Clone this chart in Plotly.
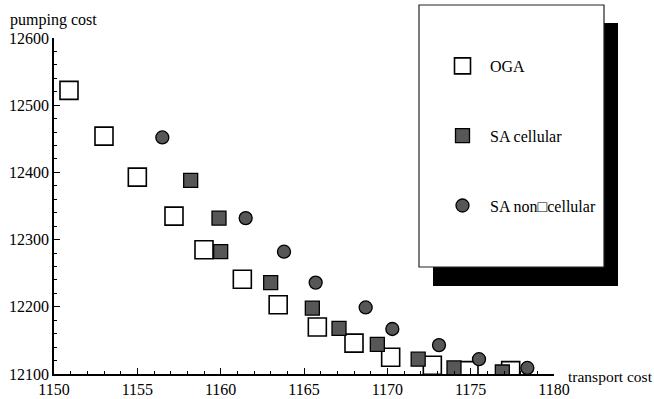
import plotly.graph_objects as go

# Data
oga_x = [1150.9, 1153.0, 1155.0, 1157.2, 1159.0, 1161.3, 1163.45, 1165.8, 1168.0, 1170.2, 1172.7, 1174.9, 1177.4]
oga_y = [12522, 12454, 12393, 12335, 12285, 12241, 12203, 12170, 12146, 12125, 12113, 12105, 12105]

sac_x = [1158.2, 1159.9, 1160.0, 1163.0, 1165.5, 1167.1, 1169.4, 1171.85, 1174.0, 1176.9]
sac_y = [12388, 12332, 12282, 12236, 12198, 12168, 12144, 12122, 12109, 12103]

sanc_x = [1156.5, 1161.5, 1163.8, 1165.7, 1168.7, 1170.3, 1173.1, 1175.5, 1178.4]
sanc_y = [12452, 12332, 12282, 12236, 12199, 12167, 12143, 12122, 12109]

x_ticks = [1150, 1155, 1160, 1165, 1170, 1175, 1180]
y_ticks = [12100, 12200, 12300, 12400, 12500, 12600]

names = ["OGA", "SA cellular", "SA non\u25a1cellular"]

FONT = "Liberation Serif, Times New Roman, serif"
GRAY = "#575757"

fig = go.Figure()
fig.add_trace(go.Scatter(
    x=oga_x, y=oga_y, mode="markers", name=names[0], legendgroup="a",
    marker=dict(symbol="square-open", size=18, color="black", line=dict(width=1.6, color="black")),
))
fig.add_trace(go.Scatter(
    x=sac_x, y=sac_y, mode="markers", name=names[1], legendgroup="b",
    marker=dict(symbol="square", size=14, color=GRAY, line=dict(width=1.3, color="black")),
))
fig.add_trace(go.Scatter(
    x=sanc_x, y=sanc_y, mode="markers", name=names[2], legendgroup="c",
    marker=dict(symbol="circle", size=13, color=GRAY, line=dict(width=1.3, color="black")),
))

W, H = 654, 399
L, R, T, B = 54, 100, 38, 25
pw, ph = W - L - R, H - T - B

def px2paper_x(px):
    return (px - L) / pw

def px2paper_y(py):
    return (H - B - py) / ph

# legend frame with drop shadow
fig.add_shape(type="rect", xref="paper", yref="paper",
              x0=px2paper_x(433), x1=px2paper_x(618), y0=px2paper_y(286), y1=px2paper_y(23),
              fillcolor="black", line=dict(width=0), layer="above")
fig.add_shape(type="rect", xref="paper", yref="paper",
              x0=px2paper_x(419), x1=px2paper_x(604), y0=px2paper_y(267), y1=px2paper_y(5),
              fillcolor="white", line=dict(width=1.2, color="#222"), layer="above")

fig.add_annotation(text="pumping cost", xref="paper", yref="paper",
                   x=px2paper_x(8), y=px2paper_y(20), xanchor="left", yanchor="middle",
                   showarrow=False, font=dict(family=FONT, size=16, color="black"))
fig.add_annotation(text="transport cost", xref="paper", yref="paper",
                   x=px2paper_x(566), y=px2paper_y(376), xanchor="left", yanchor="middle",
                   showarrow=False, font=dict(family=FONT, size=15.5, color="black"))

axis_common = dict(
    showgrid=False, zeroline=False, showline=True, linecolor="black", linewidth=1.5,
    ticks="inside", ticklen=6, tickwidth=1.3, tickcolor="black", automargin=False,
    tickfont=dict(family=FONT, size=16, color="black"),
)

fig.update_xaxes(range=[1150, 1180], tickvals=x_ticks, ticktext=[str(v) for v in x_ticks],
                 minor=dict(dtick=1, ticks="inside", ticklen=3, tickcolor="black", tickwidth=1.2),
                 **axis_common)
fig.update_yaxes(range=[12100, 12600], tickvals=y_ticks, ticktext=[str(v) for v in y_ticks],
                 minor=dict(dtick=20, ticks="inside", ticklen=3, tickcolor="black", tickwidth=1.2),
                 **axis_common)

fig.update_layout(
    width=W, height=H,
    margin=dict(l=L, r=R, t=T, b=B, pad=0, autoexpand=False),
    paper_bgcolor="white", plot_bgcolor="white",
    showlegend=True,
    legend=dict(x=px2paper_x(435), y=px2paper_y(49), xanchor="left", yanchor="top",
                bgcolor="rgba(0,0,0,0)", borderwidth=0, tracegroupgap=46,
                itemwidth=45, itemsizing="trace",
                font=dict(family=FONT, size=16, color="black")),
)

fig.write_html("out.html", config={"displayModeBar": False},
               post_script="document.body.style.margin='0';")
